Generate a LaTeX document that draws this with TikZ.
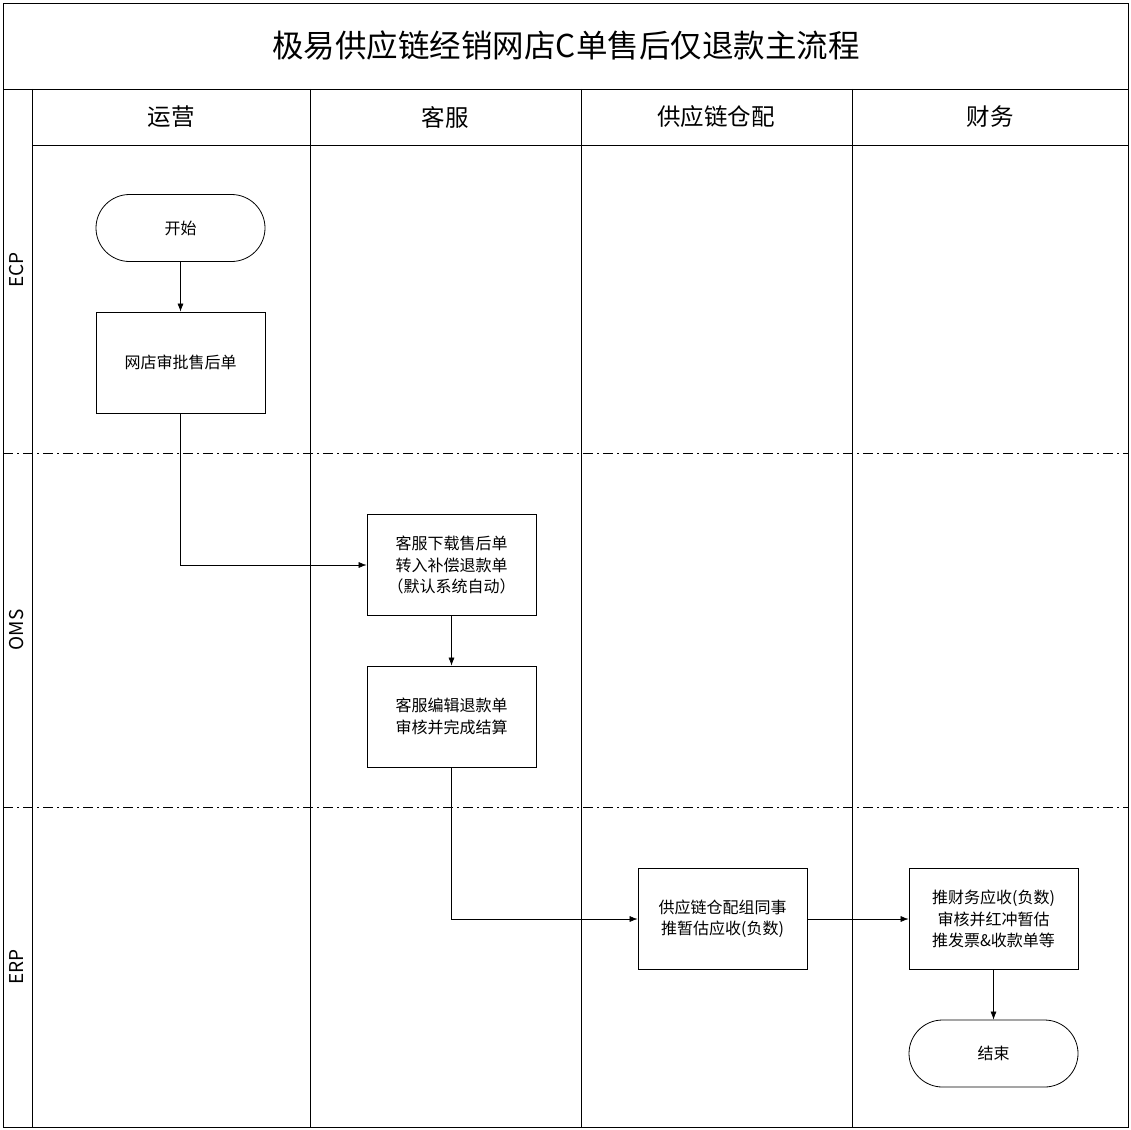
\documentclass[tikz,border=0pt]{standalone}
\usepackage{fontspec}
\setmainfont{Noto Sans CJK SC}
\usetikzlibrary{arrows.meta,shapes.misc}
\begin{document}
\begin{tikzpicture}[x=1pt,y=-1pt,
  box/.style={draw,thick,minimum width=169pt,minimum height=101pt,align=center,font=\fontsize{16}{21.5}\selectfont,inner sep=0},
  term/.style={draw,thick,rounded rectangle,minimum width=169pt,minimum height=67pt,font=\fontsize{16}{18}\selectfont,inner sep=0},
  arr/.style={-{Latex[length=8pt,width=6pt]},semithick},
  lane/.style={dash pattern=on 10pt off 4pt on 2pt off 4pt,semithick}]
\useasboundingbox (0,0) rectangle (1131,1129);
\draw[thick] (3,3) rectangle (1128,1127);
\draw[thick] (3,89) -- (1128,89);
\draw[thick] (32,145) -- (1128,145);
\draw[thick] (32,89) -- (32,1127);
\foreach \x in {310,581,852} \draw[thick] (\x,89) -- (\x,1127);
\draw[lane] (3,453) -- (1128,453);
\draw[lane] (3,807) -- (1128,807);
\node[font=\fontsize{31.5}{34}\selectfont] (title) at (566,46) {极易供应链经销网店C单售后仅退款主流程};
\node[font=\fontsize{23.5}{26}\selectfont] (h1) at (171,117) {运营};
\node[font=\fontsize{23.5}{26}\selectfont] (h2) at (445,117) {客服};
\node[font=\fontsize{23.5}{26}\selectfont] (h3) at (716,117) {供应链仓配};
\node[font=\fontsize{23.5}{26}\selectfont] (h4) at (990,117) {财务};
\node[rotate=90,font=\fontsize{19}{20}\selectfont] (l1) at (17,270) {ECP};
\node[rotate=90,font=\fontsize{19}{20}\selectfont] (l2) at (17,630) {OMS};
\node[rotate=90,font=\fontsize{19}{20}\selectfont] (l3) at (17,967) {ERP};
\node[term] (start) at (180.5,228) {开始};
\node[box] (a) at (180.5,362.5) {网店审批售后单};
\node[box] (b) at (451.5,565) {客服下载售后单\\转入补偿退款单\\（默认系统自动）};
\node[box] (c) at (451.5,716.5) {客服编辑退款单\\审核并完成结算};
\node[box] (d) at (722.5,919) {供应链仓配组同事\\推暂估应收(负数)};
\node[box] (e) at (993.5,919) {推财务应收(负数)\\审核并红冲暂估\\推发票\&收款单等};
\node[term] (end) at (993.5,1053.5) {结束};
\draw[arr] (start) -- (a);
\draw[arr] (a.south) |- (b.west);
\draw[arr] (b) -- (c);
\draw[arr] (c.south) |- (d.west);
\draw[arr] (d) -- (e);
\draw[arr] (e) -- (end);
\end{tikzpicture}
\end{document}
